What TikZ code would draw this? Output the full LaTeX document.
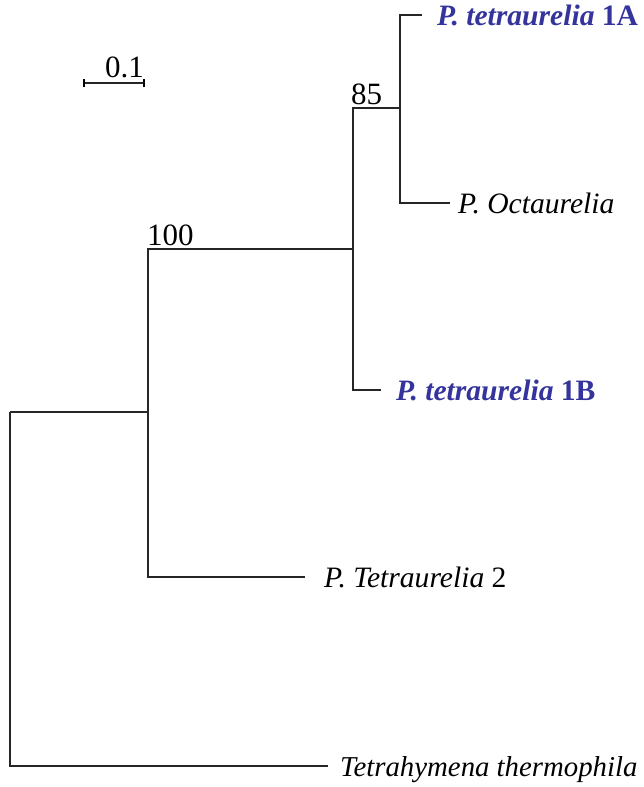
\documentclass[tikz,border=0pt]{standalone}
\usepackage{fontspec}
\setmainfont{Liberation Serif}
\definecolor{labblue}{RGB}{52,52,156}
\begin{document}
\begin{tikzpicture}[x=1pt,y=-1pt,
  br/.style={line width=1.7pt, draw=black!85},
  lab/.style={font=\fontsize{29.6}{30}\selectfont\itshape, anchor=base west, inner sep=0pt},
  hl/.style={lab, text=labblue, font=\fontsize{29.6}{30}\selectfont\bfseries\itshape},
  num/.style={font=\fontsize{31}{32}\selectfont, anchor=base west, inner sep=0pt}]
\useasboundingbox (0,0) rectangle (644,787);
% internal nodes
\coordinate (r) at (10,412);
\coordinate (n1) at (148,412);
\coordinate (n2) at (353,249);
\coordinate (n3) at (400,108);
% branch ends
\coordinate (eA) at (422,15);
\coordinate (eO) at (450,203);
\coordinate (eB) at (381,390);
\coordinate (eP) at (305,577);
\coordinate (eT) at (328,766);
% labels
\node[hl] (lA) at (437,25) {P. tetraurelia \upshape 1A};
\node[lab] (lO) at (458,213) {P. Octaurelia};
\node[hl] (lB) at (396,400) {P. tetraurelia \upshape 1B};
\node[lab] (lP) at (324,587) {P. Tetraurelia \upshape 2};
\node[lab, font=\fontsize{28.8}{30}\selectfont\itshape] (lT) at (340,776) {Tetrahymena thermophila};
% bootstrap values
\node[num] (b100) at (147,245) {100};
\node[num] (b85) at (351,104) {85};
% branches
\draw[br] (r) |- (eT);
\draw[br] (r) -- (n1);
\draw[br] (n1) |- (n2);
\draw[br] (n1) |- (eP);
\draw[br] (n2) |- (n3);
\draw[br] (n2) |- (eB);
\draw[br] (n3) |- (eA);
\draw[br] (n3) |- (eO);
% scale bar
\coordinate (s1) at (84,83);
\coordinate (s2) at (144,83);
\draw[br] (s1) -- (s2);
\draw[line width=1.4pt] ([yshift=-4pt]s1) -- ([yshift=4pt]s1);
\draw[line width=1.4pt] ([yshift=-4pt]s2) -- ([yshift=4pt]s2);
\node[num, anchor=base east] (sl) at (144,77) {0.1};
\end{tikzpicture}
\end{document}
